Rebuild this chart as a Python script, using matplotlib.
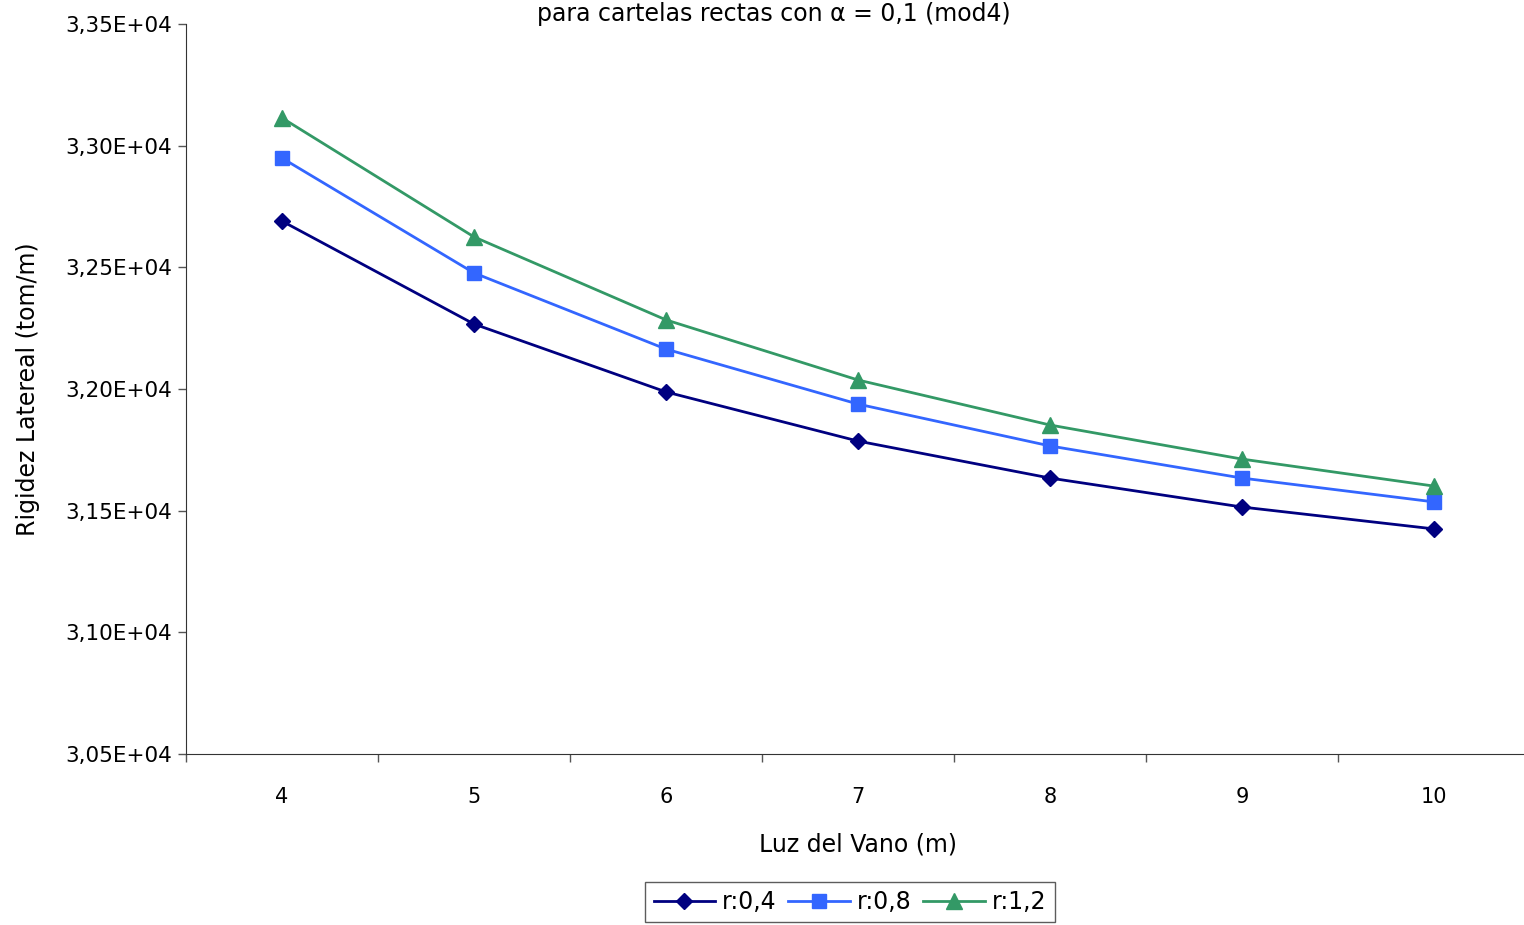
import matplotlib
matplotlib.use("Agg")
import matplotlib.pyplot as plt
from matplotlib.ticker import FixedLocator, FuncFormatter

luz = [4, 5, 6, 7, 8, 9, 10]
r04 = [32690, 32267, 31988, 31786, 31634, 31515, 31425]
r08 = [32949, 32477, 32164, 31938, 31766, 31634, 31536]
r12 = [33114, 32625, 32284, 32037, 31852, 31712, 31601]
series_labels = ["r:0,4", "r:0,8", "r:1,2"]
yticks = [30500, 31000, 31500, 32000, 32500, 33000, 33500]

plt.rcParams['font.family'] = ['DejaVu Sans']
fig = plt.figure(figsize=(15.24, 9.25), dpi=100)
ax = fig.add_axes([186/1524, 1-754/925, 1344/1524, 730/925])

x = list(range(len(luz)))
ax.plot(x, r04, color="#000080", marker="D", markersize=8, lw=2, label=series_labels[0])
ax.plot(x, r08, color="#3366FF", marker="s", markersize=10, lw=2, label=series_labels[1])
ax.plot(x, r12, color="#339966", marker="^", markersize=12, lw=2, label=series_labels[2])

ax.set_xlim(-0.5, len(luz) - 0.5)
ax.set_ylim(30500, 33500)
ax.set_yticks(yticks)
ax.yaxis.set_major_formatter(FuncFormatter(lambda v, p: ("%.2fE+04" % (v / 1e4)).replace(".", ",")))
ax.set_xticks(x)
ax.set_xticklabels([str(v) for v in luz])
ax.xaxis.set_minor_locator(FixedLocator([i - 0.5 for i in range(len(luz) + 1)]))
ax.tick_params(axis="x", which="major", length=0, pad=24, labelsize=15)
ax.tick_params(axis="x", which="minor", length=6, width=1, color="#555555")
ax.tick_params(axis="y", which="major", length=6, width=1, color="#555555", labelsize=15.5, pad=4)

for s in ["top", "right"]:
    ax.spines[s].set_visible(False)
ax.spines["left"].set_color("#333333")
ax.spines["bottom"].set_color("#333333")

ax.set_xlabel("Luz del Vano (m)", fontsize=17, labelpad=18)
ax.set_ylabel("Rigidez Latereal (tom/m)", fontsize=17, labelpad=18)

fig.text(0.508, 1 - 2/925, "para cartelas rectas con α = 0,1 (mod4)", ha="center", va="top", fontsize=17)

leg = ax.legend(loc="center", bbox_to_anchor=(850/1524, 1 - 902/925), bbox_transform=fig.transFigure,
                ncol=3, frameon=True, fancybox=False, fontsize=17, handlelength=2.6,
                columnspacing=0.5, handletextpad=0.3, borderpad=0.35)
leg.get_frame().set_edgecolor("#333333")
leg.get_frame().set_linewidth(1)

fig.savefig("out.png", dpi=100)
